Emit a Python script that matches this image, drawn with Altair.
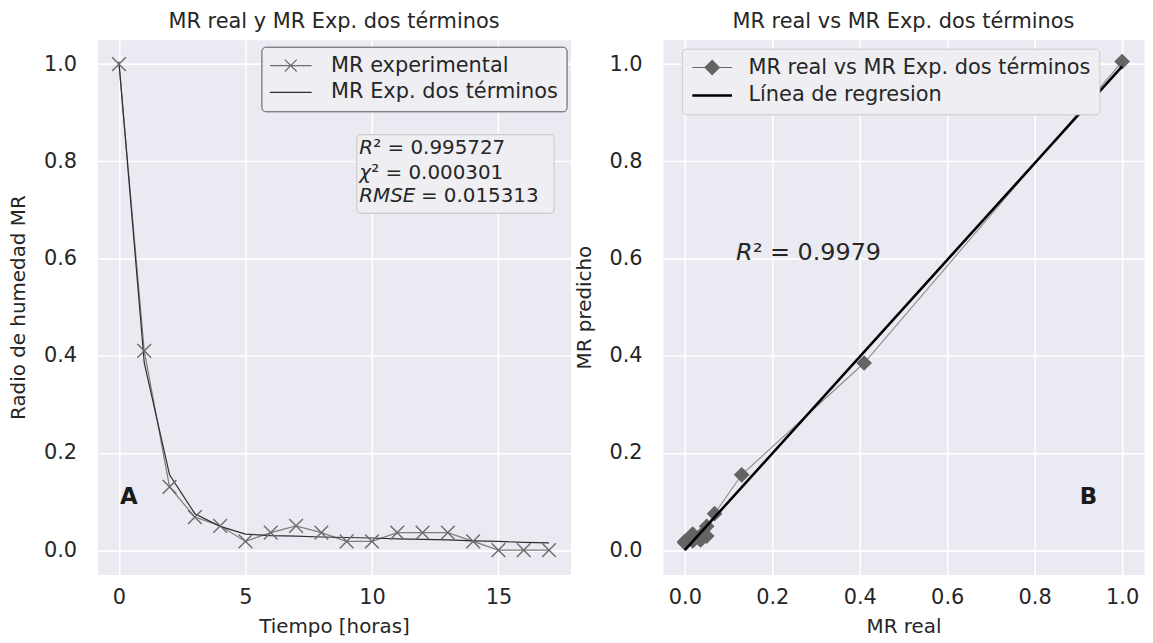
import altair as alt
import pandas as pd

# ---------------- data ----------------
tiempo = list(range(18))
mr_experimental = [1.0, 0.41, 0.13, 0.068, 0.05, 0.018, 0.036, 0.05, 0.036, 0.018, 0.018,
                   0.036, 0.036, 0.036, 0.018, 0.0, 0.0, 0.0]
mr_dos_terminos = [1.005, 0.385, 0.155, 0.075, 0.049, 0.033, 0.030, 0.029, 0.027, 0.026,
                   0.025, 0.023, 0.022, 0.021, 0.019, 0.018, 0.016, 0.015]
reg_x = [0.0, 1.0]
reg_y = [0.0, 0.995]

series_a = ["MR experimental", "MR Exp. dos términos"]
series_b = ["MR real vs MR Exp. dos términos", "Línea de regresion"]
ticks_t = [0, 5, 10, 15]
ticks_mr = [0.0, 0.2, 0.4, 0.6, 0.8, 1.0]

stat_symbols = ["R", "χ", "RMSE"]
stat_values = ["² = 0.995727", "² = 0.000301", "= 0.015313"]
r2_symbol = "R"
r2_value = "² = 0.9979"
panel_a = "A"
panel_b = "B"

# annotation anchors (data units)
stats_box_t = [9.4, 17.2]
stats_box_mr = [0.693, 0.855]
stats_text_t = 9.5
stats_text_mr = [0.828, 0.775, 0.728]
r2_pos = [0.117, 0.611]
panel_a_pos = [0.04, 0.11]
panel_b_pos = [0.923, 0.11]

FONT = "DejaVu Sans"
TXT = "#262626"

# ---------------- scales / encodings ----------------
sc_t = alt.Scale(domain=[-0.85, 17.85], nice=False, zero=False)
sc_mr = alt.Scale(domain=[-0.05, 1.05], nice=False, zero=False)
sc_real = alt.Scale(domain=[-0.05, 1.05], nice=False, zero=False)


def xa(field):
    return alt.X(field, type="quantitative", scale=sc_t,
                 axis=alt.Axis(values=ticks_t, format="d", title="Tiempo [horas]"))


def ya(field):
    return alt.Y(field, type="quantitative", scale=sc_mr,
                 axis=alt.Axis(values=ticks_mr, format=".1f", title="Radio de humedad MR"))


def xb(field):
    return alt.X(field, type="quantitative", scale=sc_real,
                 axis=alt.Axis(values=ticks_mr, format=".1f", title="MR real"))


def yb(field):
    return alt.Y(field, type="quantitative", scale=sc_mr,
                 axis=alt.Axis(values=ticks_mr, format=".1f", title="MR predicho"))


df = pd.DataFrame({"t": tiempo, "exp": mr_experimental, "mod": mr_dos_terminos})
df_long_a = pd.DataFrame({
    "t": tiempo * 2,
    "mr": mr_experimental + mr_dos_terminos,
    "serie": [series_a[0]] * len(tiempo) + [series_a[1]] * len(tiempo),
})
df_long_b = pd.DataFrame({
    "real": mr_experimental + reg_x,
    "pred": mr_dos_terminos + reg_y,
    "serie": [series_b[0]] * len(tiempo) + [series_b[1]] * len(reg_x),
})
df_reg = pd.DataFrame({"real": reg_x, "pred": reg_y})

X_PATH = "M-1,-1L1,1M-1,1L1,-1"
LEG_X_LINE = "M-4.2,0H4.2M-1.2,-1.2L1.2,1.2M-1.2,1.2L1.2,-1.2"
LEG_LINE = "M-4.2,0H4.2"
LEG_DIAMOND_LINE = "M-4,-0.1H4V0.1H-4ZM0,-1.6L1.6,0L0,1.6L-1.6,0Z"
LEG_THICK = "M-4,-0.25H4V0.25H-4Z"

# ---------------- panel A ----------------
leg_a = alt.Legend(title=None, orient="none", legendX=165, legendY=7,
                   labelFont=FONT, labelFontSize=21, labelColor=TXT, labelLimit=500,
                   symbolSize=100, symbolStrokeWidth=1.3, symbolOffset=11, labelOffset=30,
                   rowPadding=5, padding=8, strokeColor="#555555", fillColor="#EEEEF3",
                   cornerRadius=4, clipHeight=22)

line_exp = alt.Chart(df).mark_line(color="#7d7d7d", strokeWidth=1.2).encode(x=xa("t"), y=ya("exp"))
line_mod = alt.Chart(df).mark_line(color="#2f2f2f", strokeWidth=1.2).encode(x=xa("t"), y=ya("mod"))
pts_exp = alt.Chart(df).mark_point(shape=X_PATH, filled=False, size=190, color="#6a6a6a",
                                   strokeWidth=1.4, opacity=1).encode(x=xa("t"), y=ya("exp"))
legend_a = alt.Chart(df_long_a).transform_filter("datum.t < 0").mark_point(
    filled=False, strokeWidth=1.3, opacity=1).encode(
    x=xa("t"), y=ya("mr"),
    color=alt.Color("serie:N", scale=alt.Scale(domain=series_a, range=["#6e6e6e", "#2f2f2f"]), legend=leg_a),
    shape=alt.Shape("serie:N", scale=alt.Scale(domain=series_a, range=[LEG_X_LINE, LEG_LINE]), legend=leg_a),
)

box = alt.Chart(pd.DataFrame({"t0": [stats_box_t[0]], "t1": [stats_box_t[1]],
                              "y0": [stats_box_mr[0]], "y1": [stats_box_mr[1]]})).mark_rect(
    fill="#EEEEF3", stroke="#cccccc", strokeWidth=1.2, cornerRadius=4).encode(
    x=xa("t0"), x2="t1", y=ya("y0"), y2="y1")

val_dx = [14, 12, 62]
stat_layers = []
for i in range(3):
    d = pd.DataFrame({"t": [stats_text_t], "y": [stats_text_mr[i]],
                      "sym": [stat_symbols[i]], "val": [stat_values[i]]})
    stat_layers.append(alt.Chart(d).mark_text(align="left", baseline="middle", font=FONT, fontSize=20,
                                              fontStyle="italic", color=TXT).encode(
        x=xa("t"), y=ya("y"), text="sym:N"))
    stat_layers.append(alt.Chart(d).mark_text(align="left", baseline="middle", font=FONT, fontSize=20,
                                              color=TXT, dx=val_dx[i]).encode(
        x=xa("t"), y=ya("y"), text="val:N"))

lab_a = alt.Chart(pd.DataFrame({"t": [panel_a_pos[0]], "y": [panel_a_pos[1]], "s": [panel_a]})).mark_text(
    align="left", baseline="middle", font=FONT, fontSize=23, fontWeight="bold", color="#1a1a1a").encode(
    x=xa("t"), y=ya("y"), text="s:N")

chart_a = alt.layer(line_exp, line_mod, pts_exp, box, *stat_layers, lab_a, legend_a).properties(
    width=476, height=538,
    title=alt.TitleParams("MR real y MR Exp. dos términos", font=FONT, fontSize=21,
                          fontWeight="normal", color=TXT, offset=8),
)

# ---------------- panel B ----------------
leg_b = alt.Legend(title=None, orient="none", legendX=19, legendY=9,
                   labelFont=FONT, labelFontSize=21, labelColor=TXT, labelLimit=500,
                   symbolSize=100, symbolStrokeWidth=0, symbolOffset=12, labelOffset=26,
                   rowPadding=6, padding=8, strokeColor="#cccccc", fillColor="#EEEEF3",
                   cornerRadius=4, clipHeight=22)

line_pred = alt.Chart(df).mark_line(color="#8c8c8c", strokeWidth=1.1).encode(
    x=xb("exp"), y=yb("mod"), order="t:Q")
pts_pred = alt.Chart(df).mark_point(shape="diamond", filled=True, size=250, color="#646464",
                                    opacity=1).encode(x=xb("exp"), y=yb("mod"))
reg_line = alt.Chart(df_reg).mark_line(color="black", strokeWidth=2.6).encode(x=xb("real"), y=yb("pred"))
legend_b = alt.Chart(df_long_b).transform_filter("datum.real < -1").mark_point(
    filled=True, opacity=1, strokeWidth=0).encode(
    x=xb("real"), y=yb("pred"),
    color=alt.Color("serie:N", scale=alt.Scale(domain=series_b, range=["#646464", "#000000"]), legend=leg_b),
    shape=alt.Shape("serie:N", scale=alt.Scale(domain=series_b, range=[LEG_DIAMOND_LINE, LEG_THICK]), legend=leg_b),
)

d_r2 = pd.DataFrame({"x": [r2_pos[0]], "y": [r2_pos[1]], "sym": [r2_symbol], "val": [r2_value]})
r2_sym = alt.Chart(d_r2).mark_text(align="left", baseline="middle", font=FONT, fontSize=24,
                                   fontStyle="italic", color=TXT).encode(x=xb("x"), y=yb("y"), text="sym:N")
r2_val = alt.Chart(d_r2).mark_text(align="left", baseline="middle", font=FONT, fontSize=24,
                                   color=TXT, dx=17).encode(x=xb("x"), y=yb("y"), text="val:N")
lab_b = alt.Chart(pd.DataFrame({"x": [panel_b_pos[0]], "y": [panel_b_pos[1]], "s": [panel_b]})).mark_text(
    align="center", baseline="middle", font=FONT, fontSize=23, fontWeight="bold", color="#1a1a1a").encode(
    x=xb("x"), y=yb("y"), text="s:N")

chart_b = alt.layer(line_pred, pts_pred, reg_line, r2_sym, r2_val, lab_b, legend_b).properties(
    width=484, height=538,
    title=alt.TitleParams("MR real vs MR Exp. dos términos", font=FONT, fontSize=21,
                          fontWeight="normal", color=TXT, offset=8),
)

chart = alt.hconcat(chart_a, chart_b, spacing=2).resolve_scale(
    color="independent", shape="independent").resolve_legend(
    color="independent", shape="independent").properties(
    padding={"left": 0, "top": 0, "right": 0, "bottom": 0}
).configure_view(fill="#EAEAF2", stroke="transparent").configure_axis(
    domain=False, ticks=False, grid=True, gridColor="white", gridWidth=1.6,
    labelFont=FONT, labelFontSize=21, labelColor=TXT,
    titleFont=FONT, titleFontSize=20, titleFontWeight="normal", titleColor=TXT,
).configure_axisX(labelPadding=12, titlePadding=9).configure_axisY(labelPadding=21, titlePadding=15)

chart.save("out.html", embed_options={"renderer": "svg", "actions": False})
